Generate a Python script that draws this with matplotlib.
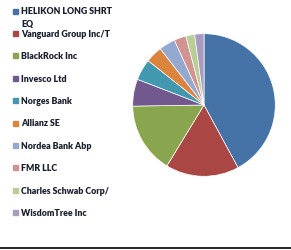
import matplotlib
matplotlib.use("Agg")
import matplotlib.pyplot as plt

holders = ["HELIKON LONG SHRT\nEQ", "Vanguard Group Inc/T", "BlackRock Inc", "Invesco Ltd",
           "Norges Bank", "Allianz SE", "Nordea Bank Abp", "FMR LLC",
           "Charles Schwab Corp/", "WisdomTree Inc"]
shares = [42.0, 16.6, 16.0, 6.1, 4.8, 3.8, 3.7, 2.7, 2.0, 2.1]
colors = ["#4572A7", "#AA4643", "#89A54E", "#71588F", "#4198AF",
          "#DB843D", "#93A9CF", "#D19392", "#B9CD96", "#A99BBD"]

W, H = 291, 251
fig = plt.figure(figsize=(W / 100, H / 100), dpi=100)

ax = fig.add_axes([132 / W, (H - 178) / H, 144 / W, 144 / H])
ax.pie(shares, colors=colors, startangle=90, counterclock=False,
       wedgeprops=dict(edgecolor="white", linewidth=0.5))
ax.set_xlim(-1.01, 1.01)
ax.set_ylim(-1.01, 1.01)
ax.set_aspect("equal")

# legend drawn by hand to mimic the spacing
y0 = 12
step = 22.4
for i, (lab, c) in enumerate(zip(holders, colors)):
    y = y0 + i * step
    fig.patches.append(plt.Rectangle((13 / W, 1 - (y + 2.5) / H), 5 / W, 5 / H,
                                     transform=fig.transFigure, color=c))
    fig.text(21 / W, 1 - y / H, lab, fontsize=6.3, fontweight="heavy", family="Lato",
             color="#1a1f2e", va="top" if "\n" in lab else "center",
             linespacing=1.55)

# first entry: top aligned so its first line sits on the marker
fig.texts[0].set_y(1 - (y0 - 5) / H)

fig.add_artist(plt.Line2D([0, 1], [1 - 249 / H, 1 - 249 / H], color="black", lw=1.2))

fig.savefig("out.png", dpi=100)
